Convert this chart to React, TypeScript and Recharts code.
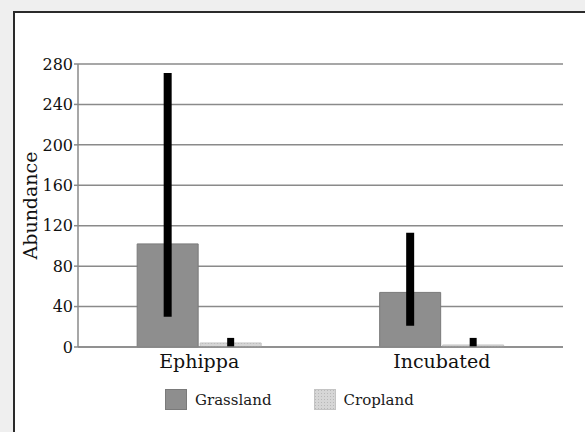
import React from 'react';
import { BarChart, Bar, XAxis, YAxis, CartesianGrid, ErrorBar, Legend } from 'recharts';

const categories = ['Ephippa', 'Incubated'];
const grassland = [102, 54];
const grasslandErr: [number, number][] = [[72, 169], [33, 59]];
const cropland = [4, 2];
const croplandErr: [number, number][] = [[4, 5], [2, 7]];
const yTicks = [0, 40, 80, 120, 160, 200, 240, 280];
const seriesNames = ['Grassland', 'Cropland'];

const data = categories.map((c, i) => ({
  name: c,
  grassland: grassland[i],
  gErr: grasslandErr[i],
  cropland: cropland[i],
  cErr: croplandErr[i],
}));

const FONT = "'DejaVu Serif', serif";
const textStyle: React.CSSProperties = { fontFamily: FONT, fontSize: 15, color: '#1a1a1a', lineHeight: '20px' };

const LegendContent = () => (
  <div style={{ display: 'flex', alignItems: 'center', ...textStyle }}>
    <div style={{ display: 'flex', alignItems: 'center', marginRight: 42 }}>
      <div style={{ width: 20, height: 19, background: '#8e8e8e', border: '1px solid #7a7a7a', marginRight: 8 }} />
      <span style={textStyle}>{seriesNames[0]}</span>
    </div>
    <div style={{ display: 'flex', alignItems: 'center' }}>
      <svg width={22} height={21} style={{ marginRight: 8, display: 'block' }}>
        <rect x={0.5} y={0.5} width={21} height={20} fill="url(#cropPat)" stroke="#c4c4c4" />
      </svg>
      <span style={textStyle}>{seriesNames[1]}</span>
    </div>
  </div>
);

export default function App() {
  return (
    <div style={{ position: 'relative', width: 585, height: 432, background: '#efefef', overflow: 'hidden' }}>
      <style>{'html,body{margin:0;padding:0;overflow:hidden;}'}</style>
      <svg width={0} height={0} style={{ position: 'absolute' }}>
        <defs>
          <pattern id="cropPat" width={3} height={3} patternUnits="userSpaceOnUse">
            <rect width={3} height={3} fill="#d6d6d6" />
            <rect x={1} y={1} width={1} height={1} fill="#b8b8b8" />
          </pattern>
        </defs>
      </svg>
      <div style={{ position: 'absolute', left: 13, top: 11, width: 600, height: 450, borderLeft: '2px solid #2a2a2a', borderTop: '2px solid #2a2a2a', background: '#ffffff' }} />
      <div style={{ position: 'absolute', left: 0, top: 0 }}>
        <BarChart
          width={585}
          height={432}
          data={data}
          margin={{ top: 64, right: 22, bottom: 55, left: 0 }}
          barCategoryGap="24.4%"
          barGap={2}
        >
          <CartesianGrid horizontal vertical={false} stroke="#8a8a8a" strokeWidth={1.5} />
          <XAxis
            dataKey="name"
            tickLine={false}
            axisLine={{ stroke: '#8a8a8a', strokeWidth: 1.5 }}
            tick={{ fontFamily: FONT, fontSize: 19, fill: '#111' }}
          />
          <YAxis
            width={78}
            domain={[0, 280]}
            ticks={yTicks}
            interval={0}
            tickSize={4}
            tickMargin={1}
            axisLine={{ stroke: '#8a8a8a', strokeWidth: 1.5 }}
            tickLine={{ stroke: '#8a8a8a', strokeWidth: 1.5 }}
            tick={{ fontFamily: FONT, fontSize: 16, fill: '#111' }}
            label={{
              value: 'Abundance',
              angle: -90,
              position: 'insideLeft',
              offset: 30,
              textAnchor: 'middle',
              style: { fontFamily: FONT, fontSize: 19, fill: '#111', textAnchor: 'middle' },
            }}
          />
          <Legend
            verticalAlign="middle"
            align="center"
            layout="horizontal"
            wrapperStyle={{ top: 389, left: 165, width: 320, fontFamily: FONT }}
            content={<LegendContent />}
          />
          <Bar dataKey="grassland" name={seriesNames[0]} fill="#8e8e8e" stroke="#7a7a7a" strokeWidth={1} isAnimationActive={false}>
            <ErrorBar dataKey="gErr" width={0} stroke="#000" strokeWidth={8} isAnimationActive={false} />
          </Bar>
          <Bar dataKey="cropland" name={seriesNames[1]} fill="url(#cropPat)" stroke="#c4c4c4" strokeWidth={1} isAnimationActive={false}>
            <ErrorBar dataKey="cErr" width={0} stroke="#000" strokeWidth={7} isAnimationActive={false} />
          </Bar>
        </BarChart>
      </div>
    </div>
  );
}
